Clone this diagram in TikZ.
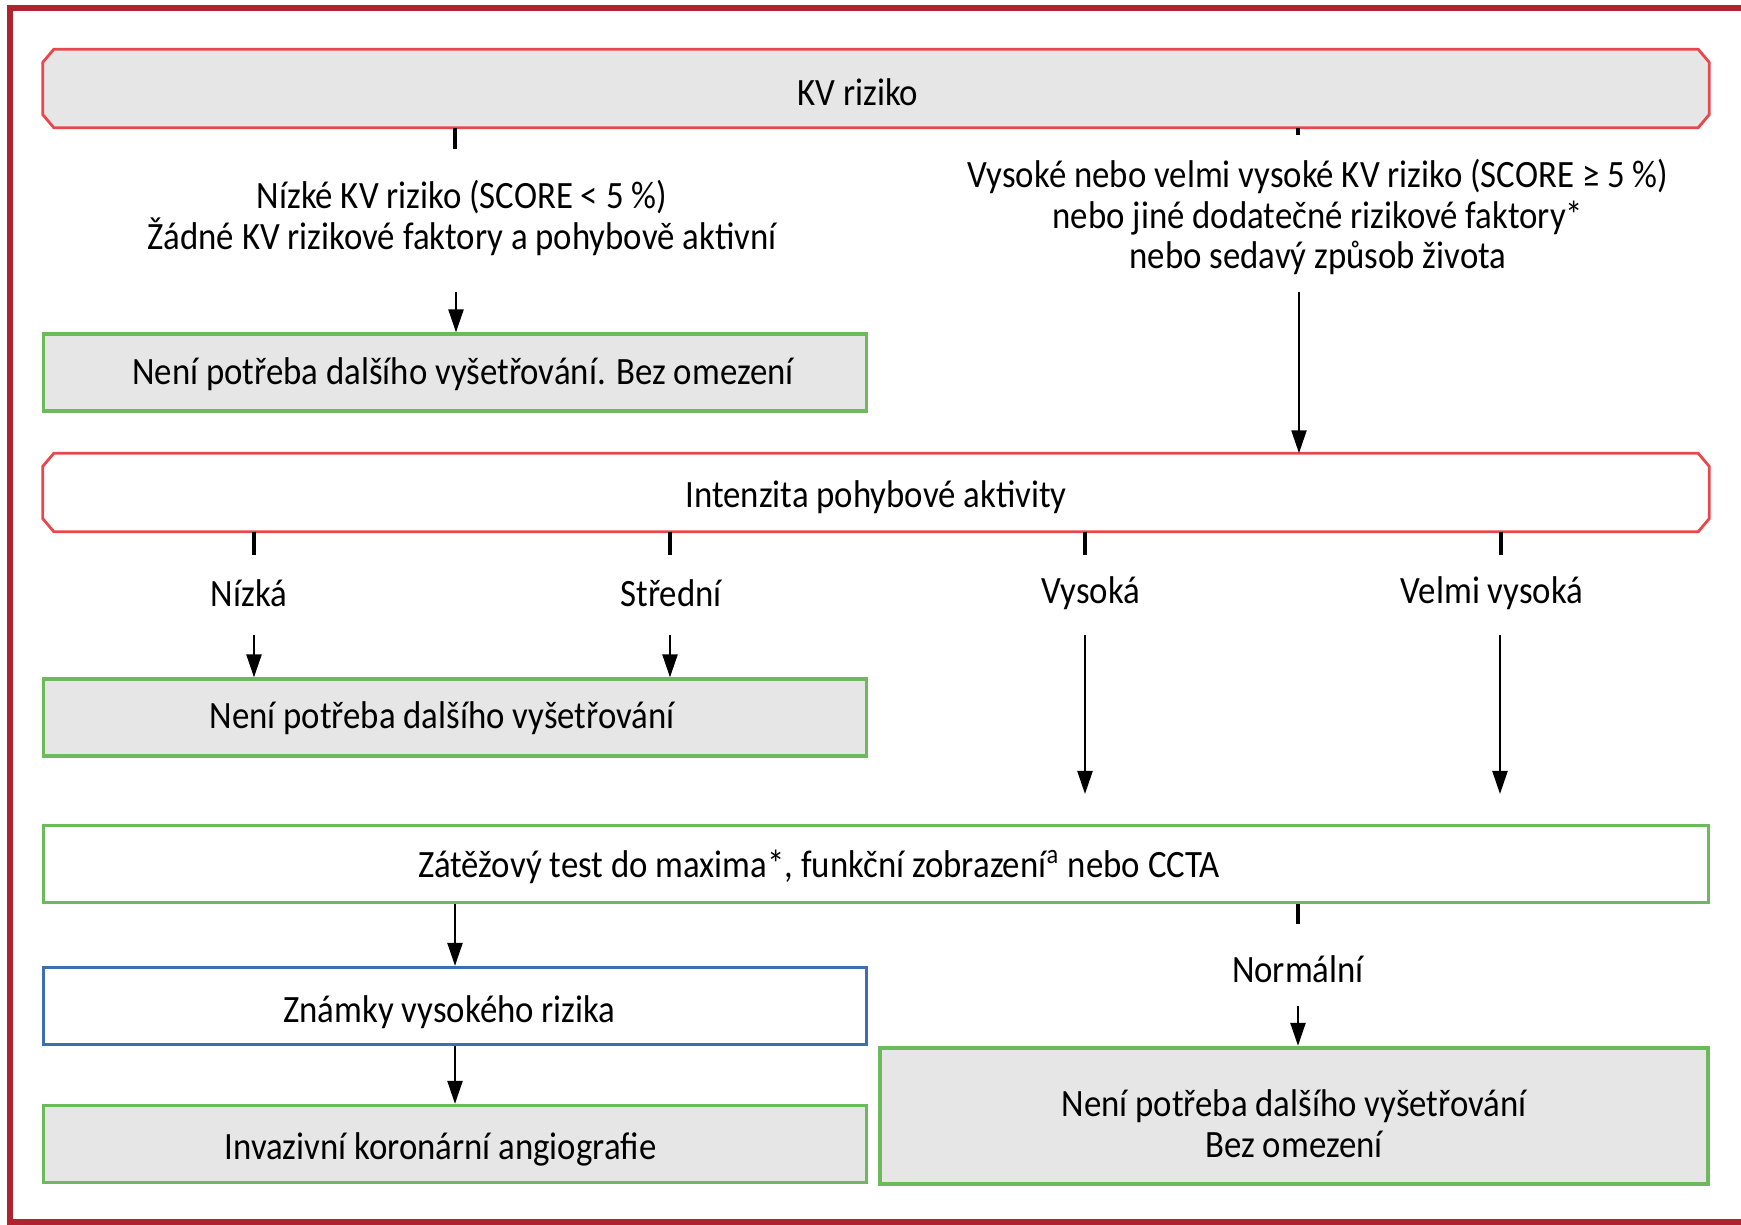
\documentclass[tikz,border=0pt]{standalone}
\usepackage{fontspec}
\setmainfont{Carlito}[FakeStretch=0.9]
\usetikzlibrary{arrows.meta,backgrounds}
\definecolor{frame}{HTML}{B0222E}
\definecolor{riskred}{HTML}{E8474C}
\definecolor{okgreen}{HTML}{6DBA5C}
\definecolor{sigblue}{HTML}{3D6DB3}
\definecolor{panel}{HTML}{E6E6E6}

% chamfered outline round a named node
\newcommand{\chamfer}[2]{%
  \draw[riskline,fill=#2] ([xshift=0.11cm]#1.north west) -- ([xshift=-0.11cm]#1.north east)
    -- ([yshift=-0.13cm]#1.north east) -- ([yshift=0.13cm]#1.south east)
    -- ([xshift=-0.11cm]#1.south east) -- ([xshift=0.11cm]#1.south west)
    -- ([yshift=0.13cm]#1.south west) -- ([yshift=-0.13cm]#1.north west) -- cycle;}

\begin{document}
\begin{tikzpicture}[x=0.01cm,y=-0.01cm,
  every node/.style={font=\fontsize{11}{11.6}\selectfont,align=center},
  riskbox/.style={minimum width=16.64cm,minimum height=0.77cm,inner sep=0},
  riskline/.style={draw=riskred,line width=0.8pt},
  okbox/.style={draw=okgreen,line width=0.9pt,fill=panel,minimum width=8.22cm,minimum height=0.77cm,inner sep=0},
  wide/.style={minimum width=16.64cm},
  drop/.style={text height=#1,text depth=0pt},
  arr/.style={line width=0.65pt,-{Triangle[length=0.23cm,width=0.15cm]}},
  tick/.style={line width=1.3pt}]
  \useasboundingbox (0,0) rectangle (1741,1225);
  \draw[frame,line width=1.7pt] (10,8) rectangle (1744,1222);
  % Row 1
  \node[riskbox,drop=0.35cm] (kv) at (876,88.5) {KV riziko\hspace*{0.36cm}};
  \node (lowtxt) at (462,218) {Nízké KV riziko (SCORE < 5 \%)\\Žádné KV rizikové faktory a pohybově aktivní};
  \node (hightxt) at (1318,217) {Vysoké nebo velmi vysoké KV riziko (SCORE ≥ 5 \%)\\nebo jiné dodatečné rizikové faktory*\\nebo sedavý způsob života};
  \node[okbox,drop=0.24cm] (nopot1) at (455,372.5) {\hspace*{0.16cm}Není potřeba dalšího vyšetřování. Bez omezení};
  % Row 2
  \node[riskbox,drop=0.30cm] (intens) at (876,492.5) {Intenzita pohybové aktivity};
  \node (nizka) at (249,593) {Nízká};
  \node (stredni) at (671,593) {Střední};
  \node (vysoka) at (1091,593) {Vysoká};
  \node (velmi) at (1492,593) {Velmi vysoká};
  \node[okbox,drop=0.22cm] (nopot2) at (455,717.5) {Není potřeba dalšího vyšetřování\hspace*{0.26cm}};
  % Row 3
  \node[okbox,wide,fill=white,drop=0.26cm] (stress) at (876,864) {Zátěžový test do maxima*, funkční zobrazení\textsuperscript{a} nebo CCTA\hspace*{1.14cm}};
  \node[okbox,draw=sigblue,fill=white,drop=0.32cm] (signs) at (455,1006) {Známky vysokého rizika\hspace*{0.11cm}};
  \node[okbox,drop=0.30cm] (inv) at (455,1144) {Invazivní koronární angiografie\hspace*{0.29cm}};
  \node (normal) at (1298,969) {Normální};
  \node[okbox,line width=1.2pt,minimum width=8.28cm,minimum height=1.36cm] (nopot3) at (1294,1116) {\rule{0pt}{0.42cm}Není potřeba dalšího vyšetřování\\Bez omezení};
  \begin{scope}[on background layer]
    \chamfer{kv}{panel}
    \chamfer{intens}{white}
  \end{scope}
  % ticks and arrows
  \coordinate (t1) at (455,149);
  \coordinate (t2) at (1298,135);
  \coordinate (a1) at (456,292);
  \coordinate (a2) at (1299,292);
  \draw[tick] (kv.south -| t1) -- (t1);
  \draw[tick] (kv.south -| t2) -- (t2);
  \draw[arr] (a1) -- (nopot1.north -| a1);
  \draw[arr] (a2) -- (intens.north -| a2);
  \coordinate (t3) at (254,555);
  \coordinate (t4) at (670,555);
  \coordinate (t5) at (1085,555);
  \coordinate (t6) at (1501,555);
  \draw[tick] (intens.south -| t3) -- (t3);
  \draw[tick] (intens.south -| t4) -- (t4);
  \draw[tick] (intens.south -| t5) -- (t5);
  \draw[tick] (intens.south -| t6) -- (t6);
  \coordinate (a3) at (254,635);
  \coordinate (a4) at (670,635);
  \coordinate (a5) at (1085,635);
  \coordinate (a6) at (1500,635);
  \coordinate (e5) at (1085,794);
  \coordinate (e6) at (1500,794);
  \draw[arr] (a3) -- (nopot2.north -| a3);
  \draw[arr] (a4) -- (nopot2.north -| a4);
  \draw[arr] (a5) -- (e5);
  \draw[arr] (a6) -- (e6);
  \draw[arr] (stress.south) ++(-421,0) coordinate (s1) -- (signs.north -| s1);
  \draw[arr] (signs.south) -- (inv.north);
  \coordinate (t7) at (1298,924);
  \coordinate (a7) at (1298,1006);
  \draw[tick] (stress.south -| t7) -- (t7);
  \draw[arr] (a7) -- (nopot3.north -| a7);
\end{tikzpicture}
\end{document}
